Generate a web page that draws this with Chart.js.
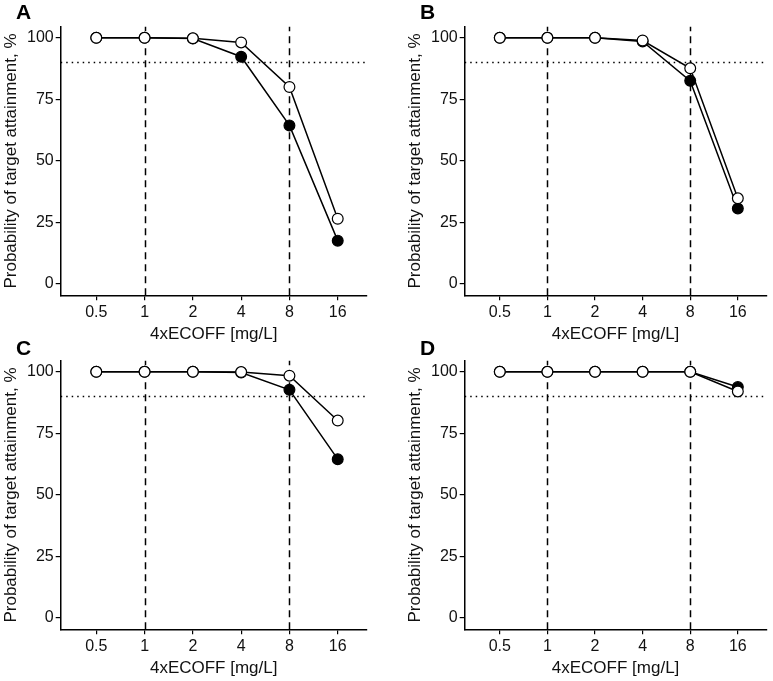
<!DOCTYPE html>
<html>
<head>
<meta charset="utf-8">
<script src="https://cdn.jsdelivr.net/npm/chart.js@4/dist/chart.umd.min.js"></script>
<style>
  body { margin: 0; background: #fff; }
  #wrap { position: relative; width: 773px; height: 681px; }
  canvas { position: absolute; }
</style>
</head>
<body>
<div id="wrap">
  <canvas id="pA" width="386" height="345" style="left:0;top:0"></canvas>
  <canvas id="pB" width="369" height="345" style="left:404px;top:0"></canvas>
  <canvas id="pC" width="386" height="347" style="left:0;top:334px"></canvas>
  <canvas id="pD" width="369" height="347" style="left:404px;top:334px"></canvas>
</div>
<script>
// 4xECOFF values (mg/L) and tick texts
const mic = [0.5, 1, 2, 4, 8, 16];
const xLabels = ['0.5', '1', '2', '4', '8', '16'];
const yTicks = [0, 25, 50, 75, 100];
const cutoffs = [1, 8];   // vertical dashed lines
const target = 90;        // horizontal dotted line

// probability of target attainment, % (open / filled circles)
const openA   = [100, 100, 99.8, 98.1, 80.0, 26.5];
const filledA = [100, 100, 99.7, 92.3, 64.4, 17.6];
const openB   = [100, 100, 100, 98.9, 87.6, 34.8];
const filledB = [100, 100, 100, 98.5, 82.5, 30.7];
const openC   = [100, 100, 100, 99.9, 98.4, 80.2];
const filledC = [100, 100, 100, 99.7, 92.7, 64.5];
const openD   = [100, 100, 100, 100, 100, 92.0];
const filledD = [100, 100, 100, 100, 100, 93.8];

const FONT = "'Liberation Sans', Arial, sans-serif";

// dashed / dotted reference lines, under the points
const refLines = {
  id: 'refLines',
  beforeDatasetsDraw(chart) {
    const {ctx, chartArea, scales: {x, y}} = chart;
    ctx.save();
    ctx.strokeStyle = '#000';
    ctx.lineWidth = 1.5;
    ctx.setLineDash([7, 5]);
    cutoffs.forEach(c => {
      const px = Math.round(x.getPixelForValue(c)) + 0.5;
      ctx.beginPath();
      ctx.moveTo(px, chartArea.bottom);
      ctx.lineTo(px, chartArea.top);
      ctx.stroke();
    });
    ctx.setLineDash([1.5, 4]);
    const py = Math.round(y.getPixelForValue(target)) + 0.5;
    ctx.beginPath();
    ctx.moveTo(chartArea.left, py);
    ctx.lineTo(chartArea.right, py);
    ctx.stroke();
    ctx.restore();
  }
};

// panel letter
const panelLetter = {
  id: 'panelLetter',
  afterDraw(chart, args, opts) {
    const ctx = chart.ctx;
    ctx.save();
    ctx.font = 'bold 21px ' + FONT;
    ctx.fillStyle = '#000';
    ctx.textBaseline = 'alphabetic';
    ctx.fillText(opts.text, 16, opts.y);
    ctx.restore();
  }
};

function makePanel(id, letter, letterY, titleY, openVals, filledVals) {
  const canvas = document.getElementById(id);
  const W = canvas.width, H = canvas.height;
  const plotTop = 26.7, plotLeft = 60.7, plotRight = 366.7;
  const plotBottom = plotTop + 268.6;

  new Chart(canvas, {
    type: 'line',
    data: {
      datasets: [{
        label: 'open',
        data: mic.map((m, i) => ({x: m, y: openVals[i]})),
        borderColor: '#000',
        borderWidth: 1.5,
        pointRadius: 5.4,
        pointBorderWidth: 1.2,
        pointBackgroundColor: '#fff',
        pointBorderColor: '#000',
        tension: 0
      }, {
        label: 'filled',
        data: mic.map((m, i) => ({x: m, y: filledVals[i]})),
        borderColor: '#000',
        borderWidth: 1.5,
        pointRadius: 5.4,
        pointBorderWidth: 1.2,
        pointBackgroundColor: '#000',
        pointBorderColor: '#000',
        tension: 0
      }]
    },
    options: {
      responsive: false,
      animation: false,
      devicePixelRatio: 1,
      layout: { padding: { top: plotTop, left: 0, right: W - plotRight, bottom: 0 } },
      plugins: {
        legend: { display: false },
        tooltip: { enabled: false },
        panelLetter: { text: letter, y: letterY }
      },
      scales: {
        x: {
          type: 'logarithmic',
          min: 0.5 / Math.pow(2, 0.6),
          max: 16 * Math.pow(2, 0.6),
          afterBuildTicks: s => { s.ticks = mic.map(v => ({value: v})); },
          afterFit: s => {
            s.height = H - plotBottom;
            s.paddingLeft = 0; s.paddingRight = 0;
          },
          ticks: {
            autoSkip: false, maxRotation: 0, padding: 3,
            color: '#111', font: { family: FONT, size: 16 },
            callback: (v, i) => xLabels[i]
          },
          grid: { display: true, drawOnChartArea: false, drawTicks: true, tickLength: 5, color: '#000', lineWidth: 1.2 },
          border: { display: true, color: '#000', width: 1.5 },
          title: {
            display: true, text: '4xECOFF [mg/L]', color: '#111',
            font: { family: FONT, size: 17 },
            padding: { top: 0, bottom: Math.max(0, H - titleY - 10.2) }
          }
        },
        y: {
          type: 'linear',
          min: -4.6,
          max: 104.5,
          afterBuildTicks: s => { s.ticks = yTicks.map(v => ({value: v})); },
          afterFit: s => {
            s.width = plotLeft;
            s.paddingTop = 0; s.paddingBottom = 0;
          },
          ticks: {
            padding: 2, color: '#111', font: { family: FONT, size: 16 }
          },
          grid: { display: true, drawOnChartArea: false, drawTicks: true, tickLength: 5, color: '#000', lineWidth: 1.2 },
          border: { display: true, color: '#000', width: 1.5 },
          title: {
            display: true, text: 'Probability of target attainment, %', color: '#111',
            font: { family: FONT, size: 17 },
            padding: { top: 1.5, bottom: 0 }
          }
        }
      }
    },
    plugins: [refLines, panelLetter]
  });
}

makePanel('pA', 'A', 18.5, 335, openA, filledA);
makePanel('pB', 'B', 18.5, 335, openB, filledB);
makePanel('pC', 'C', 21, 334, openC, filledC);
makePanel('pD', 'D', 21, 334, openD, filledD);
</script>
</body>
</html>
